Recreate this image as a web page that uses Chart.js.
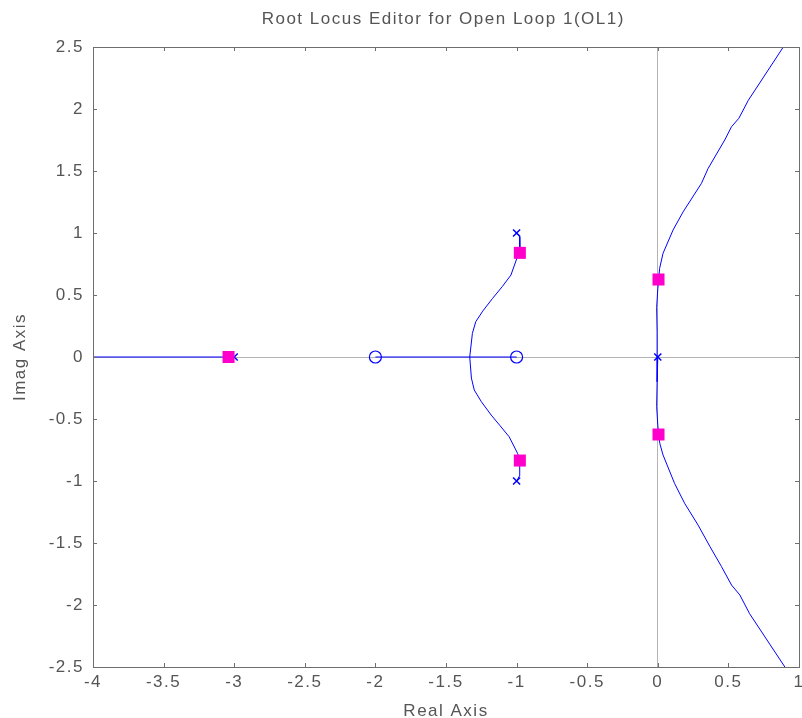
<!DOCTYPE html>
<html>
<head>
<meta charset="utf-8">
<title>Root Locus</title>
<script src="https://cdn.jsdelivr.net/npm/chart.js@4.4.1/dist/chart.umd.min.js"></script>
<style>
  html, body { margin: 0; padding: 0; background: #fff; overflow: hidden; }
  #wrap { width: 802px; height: 718px; }
  canvas { display: block; }
</style>
</head>
<body>
<div id="wrap"><canvas id="rl"></canvas></div>
<script>
// open-loop poles and zeros
const poleRe = [-3, -1, -1, 0];
const poleIm = [0, 1, -1, 0];
const zeroRe = [-2, -1];
const zeroIm = [0, 0];

// current closed-loop poles (editable squares)
const clRe = [-3.04, -0.977, -0.977, 0.005, 0.005];
const clIm = [0, 0.84, -0.835, 0.625, -0.625];

// branch from pole at -3 toward -inf
const leftRe = [-4, -3];
const leftIm = [0, 0];

// real-axis segment between the zeros
const midRe = [-2, -1];
const midIm = [0, 0];

// complex pair branches -> breakaway on real axis
const upRe = [-1, -0.979, -0.977, -0.998, -1.04, -1.10, -1.17, -1.24, -1.289, -1.313, -1.332];
const upIm = [1, 0.97, 0.844, 0.796, 0.661, 0.57, 0.473, 0.37, 0.285, 0.191, 0];
const dnRe = [-1, -0.98, -0.978, -0.993, -1.053, -1.12, -1.18, -1.25, -1.30, -1.32, -1.332];
const dnIm = [-1, -0.96, -0.83, -0.777, -0.643, -0.55, -0.468, -0.36, -0.266, -0.17, 0];

// branches leaving the double pole at the origin
const rUpRe = [0, -0.005, -0.008, 0, 0.006, 0.013, 0.037, 0.108, 0.179, 0.309, 0.356, 0.474, 0.522, 0.574, 0.641, 0.889];
const rUpIm = [0, 0.2, 0.4, 0.55, 0.63, 0.715, 0.836, 1.024, 1.17, 1.40, 1.52, 1.75, 1.857, 1.925, 2.07, 2.5];
const rDnRe = [0, -0.005, -0.008, 0, 0.006, 0.015, 0.037, 0.119, 0.19, 0.285, 0.37, 0.451, 0.522, 0.581, 0.65, 0.90];
const rDnIm = [0, -0.2, -0.4, -0.55, -0.63, -0.70, -0.79, -1.02, -1.18, -1.355, -1.53, -1.69, -1.839, -1.919, -2.07, -2.5];

const BLUE = '#0000ff';
const MAGENTA = '#ff00cc';
const AXIS = '#6e6e6e';
const TEXT = '#555555';
const FONT = '"Liberation Sans", Arial, sans-serif';
const SPACING = '1.5px';

const pts = (xs, ys) => xs.map((x, i) => ({ x, y: ys[i] }));

const branch = (xs, ys) => ({
    data: pts(xs, ys),
    showLine: true,
    borderColor: BLUE,
    borderWidth: 1,
    pointRadius: 0,
    tension: 0,
    order: 3,
});

// plain numbers on the axes: 1, -0.5, 2.5 ...
const fmt = v => String(Math.round(v * 10) / 10);

// wider letter spacing for every text drawn on the canvas
const spacing = {
    id: 'spacing',
    beforeUpdate(chart) { chart.ctx.letterSpacing = SPACING; },
    beforeDraw(chart) { chart.ctx.letterSpacing = SPACING; },
};

// let the plot run almost to the right edge (the "1" label may overhang)
const fitRight = {
    id: 'fitRight',
    afterLayout(chart) {
        const x = chart.scales.x;
        const right = chart.width - 3;
        chart.chartArea.right = right;
        chart.chartArea.width = right - chart.chartArea.left;
        x.right = right;
        x.width = right - x.left;
        x.configure();
    },
};

// inward ticks on all four sides plus the box outline
const boxTicks = {
    id: 'boxTicks',
    afterDraw(chart) {
        const { ctx, chartArea: a, scales } = chart;
        const len = 4;
        ctx.save();
        ctx.strokeStyle = AXIS;
        ctx.lineWidth = 1;
        ctx.beginPath();
        for (const t of scales.x.ticks) {
            const px = Math.round(scales.x.getPixelForValue(t.value)) + 0.5;
            ctx.moveTo(px, a.bottom); ctx.lineTo(px, a.bottom - len);
            ctx.moveTo(px, a.top); ctx.lineTo(px, a.top + len);
        }
        for (const t of scales.y.ticks) {
            const py = Math.round(scales.y.getPixelForValue(t.value)) + 0.5;
            ctx.moveTo(a.left, py); ctx.lineTo(a.left + len, py);
            ctx.moveTo(a.right, py); ctx.lineTo(a.right - len, py);
        }
        ctx.stroke();
        ctx.strokeRect(Math.round(a.left) + 0.5, Math.round(a.top) + 0.5,
            Math.round(a.right - a.left), Math.round(a.bottom - a.top));
        ctx.restore();
    },
};

new Chart(document.getElementById('rl'), {
    type: 'scatter',
    data: {
        datasets: [
            branch(leftRe, leftIm),
            branch(midRe, midIm),
            branch(upRe, upIm),
            branch(dnRe, dnIm),
            branch(rUpRe, rUpIm),
            branch(rDnRe, rDnIm),
            {
                data: pts(poleRe, poleIm),
                pointStyle: 'crossRot',
                pointRadius: 5,
                borderColor: BLUE,
                borderWidth: 1.5,
                order: 2,
            },
            {
                data: pts(zeroRe, zeroIm),
                pointStyle: 'circle',
                pointRadius: 6,
                borderColor: BLUE,
                backgroundColor: 'rgba(0,0,0,0)',
                borderWidth: 1.2,
                order: 2,
            },
            {
                data: pts(clRe, clIm),
                pointStyle: 'rect',
                pointRadius: 8.5,
                borderColor: MAGENTA,
                backgroundColor: MAGENTA,
                borderWidth: 0,
                order: 1,
            },
        ],
    },
    options: {
        responsive: true,
        maintainAspectRatio: false,
        animation: false,
        events: [],
        layout: { padding: { left: 0, right: 3, top: 0, bottom: 0 } },
        plugins: {
            legend: { display: false },
            tooltip: { enabled: false },
            title: {
                display: true,
                fullSize: false,
                text: 'Root Locus Editor for Open Loop 1(OL1)',
                color: TEXT,
                font: { family: FONT, size: 17, weight: 'normal' },
                padding: { top: 9, bottom: 17.6 },
            },
        },
        scales: {
            x: {
                type: 'linear',
                min: -4,
                max: 1,
                afterFit(s) {
                    s.height = 51;
                    s.paddingLeft = 0;
                    s.paddingRight = 0;
                },
                ticks: {
                    stepSize: 0.5,
                    color: TEXT,
                    padding: 5,
                    maxRotation: 0,
                    font: { family: FONT, size: 17 },
                    callback: fmt,
                },
                grid: {
                    drawTicks: false,
                    color: c => (c.tick && c.tick.value === 0 ? '#b4b4b4' : 'rgba(0,0,0,0)'),
                },
                border: { display: false },
                title: {
                    display: true,
                    text: 'Real Axis',
                    color: TEXT,
                    font: { family: FONT, size: 17 },
                    padding: { top: 0, bottom: -4 },
                },
            },
            y: {
                type: 'linear',
                min: -2.5,
                max: 2.5,
                afterFit(s) {
                    s.width = 93;
                    s.paddingTop = 0;
                    s.paddingBottom = 0;
                },
                ticks: {
                    stepSize: 0.5,
                    color: TEXT,
                    padding: 9,
                    font: { family: FONT, size: 17 },
                    callback: fmt,
                },
                grid: {
                    drawTicks: false,
                    color: c => (c.tick && c.tick.value === 0 ? '#b4b4b4' : 'rgba(0,0,0,0)'),
                },
                border: { display: false },
                title: {
                    display: true,
                    text: 'Imag Axis',
                    color: TEXT,
                    font: { family: FONT, size: 17 },
                    padding: { top: 10, bottom: 0 },
                },
            },
        },
    },
    plugins: [spacing, fitRight, boxTicks],
});
</script>
</body>
</html>
